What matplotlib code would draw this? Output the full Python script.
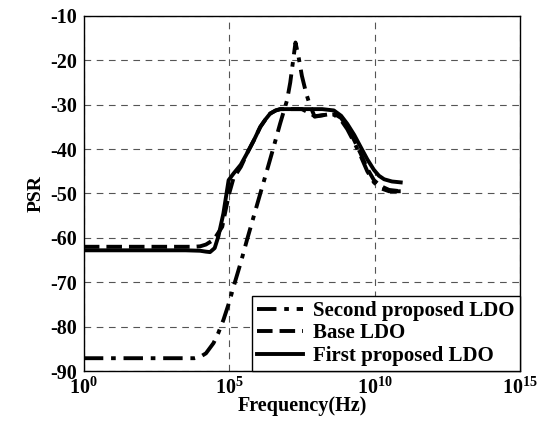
import numpy as np
import matplotlib.pyplot as plt

# log10(frequency) and PSR (dB)
first_logf = [0, 3.5, 4.0, 4.2, 4.34, 4.5, 4.63, 4.8, 4.98, 5.15, 5.4, 5.61, 5.85, 6.07, 6.25, 6.41, 6.6, 6.76, 7.5, 8.2, 8.6, 8.85, 9.06, 9.3, 9.52, 9.75, 9.98, 10.15, 10.33, 10.6, 10.9]
first_psr = [-62.8, -62.8, -62.9, -63.1, -63.2, -62.3, -59.6, -54.5, -47, -45.5, -43.5, -41, -38, -35, -33.3, -32, -31.3, -31, -31, -31, -31.3, -32.5, -34.3, -36.8, -39.5, -42.3, -44.7, -46, -46.8, -47.3, -47.5]

base_logf = [0, 3.5, 3.8, 4.0, 4.2, 4.47, 4.76, 4.9, 5.0, 5.15, 5.4, 5.61, 5.85, 6.07, 6.25, 6.41, 6.6, 6.76, 7.5, 7.8, 7.94, 8.3, 8.6, 8.85, 9.06, 9.3, 9.52, 9.75, 9.98, 10.2, 10.5, 10.9]
base_psr = [-62, -62, -62, -61.9, -61.5, -60.4, -57.5, -53, -50, -46.5, -44, -41, -38, -35, -33.3, -32, -31.3, -31, -31, -32, -32.6, -32.3, -32, -33, -35, -38, -41, -44.4, -47, -48.3, -49.2, -49.5]

second_logf = [0, 3.5, 3.8, 4.0, 4.2, 4.46, 4.62, 4.8, 5.0, 5.15, 5.4, 5.61, 5.85, 6.07, 6.3, 6.53, 6.75, 6.99, 7.1, 7.2, 7.28, 7.38, 7.5, 7.65, 7.77, 7.94, 8.3, 8.6, 8.85, 9.06, 9.3, 9.52, 9.75, 9.98, 10.2, 10.5, 10.9]
second_psr = [-87.1, -87.1, -87.1, -86.8, -86, -83.7, -81.5, -78.5, -74.5, -71, -65.5, -60.5, -55, -50, -44.8, -39.5, -34.3, -29, -25, -20, -16, -19, -23.5, -27.5, -30, -32.7, -32.3, -32.2, -33.5, -35.5, -38.5, -41.5, -45, -47.5, -48.8, -49.5, -49.5]

plt.rcParams['font.family'] = ['Liberation Serif', 'DejaVu Serif']
plt.rcParams['font.weight'] = 'bold'
plt.rcParams['axes.unicode_minus'] = False
plt.rcParams['mathtext.fontset'] = 'custom'
plt.rcParams['mathtext.rm'] = 'Liberation Serif:bold'
plt.rcParams['mathtext.default'] = 'rm'

fig, ax = plt.subplots(figsize=(5.41, 4.29), dpi=100)
fig.subplots_adjust(left=0.155, right=0.961, top=0.963, bottom=0.135)

ax.plot(10.0 ** np.array(second_logf), second_psr, color='black', lw=2.8,
        dashes=(5, 2, 1.2, 2), label='Second proposed LDO')
ax.plot(10.0 ** np.array(base_logf), base_psr, color='black', lw=2.8,
        dashes=(4, 1.8), label='Base LDO')
ax.plot(10.0 ** np.array(first_logf), first_psr, color='black', lw=2.8,
        label='First proposed LDO')

ax.set_xscale('log')
ax.set_xlim(1, 1e15)
ax.set_ylim(-90, -10)
ax.set_xticks([1, 1e5, 1e10, 1e15])
ax.set_xticklabels(['$10^{0}$', '$10^{5}$', '$10^{10}$', '$10^{15}$'])
ax.xaxis.set_minor_locator(plt.NullLocator())
ax.set_yticks(range(-90, -9, 10))
ax.tick_params(labelsize=14.5, length=0, pad=5)
for t in ax.get_yticklabels():
    t.set_fontweight('bold')

ax.grid(True, color='#555555', linestyle=(0, (6, 5)), linewidth=0.8)
for s in ax.spines.values():
    s.set_linewidth(1.0)

ax.set_xlabel('Frequency(Hz)', fontsize=14.5, fontweight='bold', labelpad=-2)
ax.set_ylabel('PSR', fontsize=14, fontweight='bold', labelpad=4)

leg = ax.legend(loc='lower right', fontsize=15, frameon=True, fancybox=False,
                borderaxespad=0, handlelength=2.2, handletextpad=0.5,
                labelspacing=0.12, borderpad=0.25)
leg.get_frame().set_edgecolor('black')
leg.get_frame().set_linewidth(1.0)
leg.get_frame().set_alpha(1)

fig.savefig('out.png', dpi=100)
